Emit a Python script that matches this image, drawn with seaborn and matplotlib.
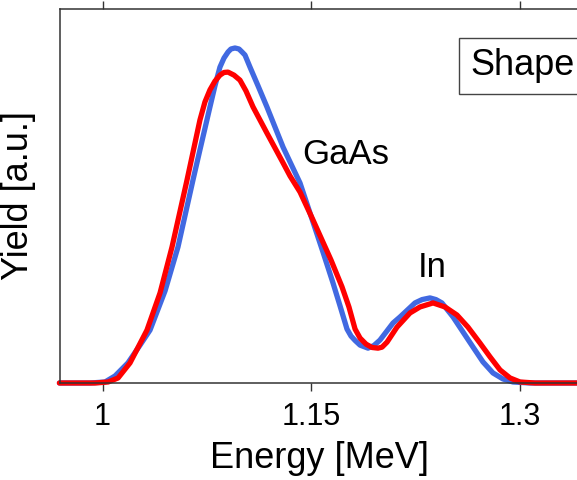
import matplotlib
matplotlib.use("Agg")
import matplotlib.pyplot as plt
import seaborn as sns
import pandas as pd

# blue curve
energy_blue = [0.969, 0.991, 1.0018, 1.009, 1.0183, 1.027, 1.0342, 1.045, 1.0543,
               1.0651, 1.0701, 1.0737, 1.0773, 1.0809, 1.0845, 1.0874, 1.0903,
               1.0924, 1.0953, 1.0982, 1.1004, 1.1025, 1.1061, 1.1119, 1.1183,
               1.1299, 1.1349, 1.1421, 1.1514, 1.1586, 1.1658, 1.1709, 1.1759,
               1.1788, 1.1817, 1.1853, 1.1910, 1.1953, 1.1996, 1.209, 1.214,
               1.2248, 1.2299, 1.2356, 1.2399, 1.2442, 1.2522, 1.2594, 1.2666,
               1.2737, 1.2809, 1.2881, 1.2953, 1.3076, 1.38]
yield_blue = [0.0, 0.0, 0.003, 0.021, 0.060, 0.113, 0.158, 0.275, 0.406,
              0.606, 0.696, 0.760, 0.824, 0.887, 0.943, 0.970, 0.988,
              0.997, 1.0, 0.997, 0.988, 0.979, 0.943, 0.887, 0.824,
              0.704, 0.660, 0.597, 0.481, 0.391, 0.299, 0.230, 0.161,
              0.140, 0.127, 0.113, 0.104, 0.112, 0.128, 0.179, 0.197,
              0.239, 0.249, 0.254, 0.249, 0.239, 0.197, 0.152, 0.107,
              0.063, 0.030, 0.012, 0.003, 0.0, 0.0]

# red curve
energy_red = [0.969, 0.9946, 1.004, 1.0112, 1.0198, 1.032, 1.0414, 1.05, 1.0608,
              1.0701, 1.0737, 1.0773, 1.0809, 1.0845, 1.0874, 1.0903, 1.0946,
              1.0989, 1.1032, 1.1083, 1.1183, 1.1299, 1.1349, 1.1421, 1.1514,
              1.1579, 1.1644, 1.1723, 1.1773, 1.1817, 1.1853, 1.1896, 1.1939,
              1.1982, 1.2011, 1.2047, 1.2119, 1.2212, 1.2284, 1.2378, 1.2464,
              1.255, 1.2629, 1.2716, 1.2788, 1.286, 1.2932, 1.3004, 1.3112, 1.38]
yield_red = [0.0, 0.0, 0.003, 0.015, 0.060, 0.158, 0.269, 0.406, 0.606,
             0.785, 0.839, 0.875, 0.901, 0.919, 0.927, 0.928, 0.919,
             0.904, 0.872, 0.824, 0.746, 0.657, 0.618, 0.570, 0.487,
             0.427, 0.367, 0.287, 0.227, 0.161, 0.134, 0.116, 0.106,
             0.104, 0.107, 0.122, 0.167, 0.209, 0.227, 0.239, 0.227,
             0.203, 0.167, 0.119, 0.078, 0.039, 0.015, 0.003, 0.0, 0.0]

x_ticks = [1.0, 1.15, 1.3]
x_ticklabels = ["1", "1.15", "1.3"]

sns.set_style("ticks")
plt.rcParams["font.family"] = ["Liberation Sans", "DejaVu Sans"]
plt.rcParams["text.color"] = "black"
plt.rcParams["axes.labelcolor"] = "black"
plt.rcParams["xtick.color"] = "black"

fig = plt.figure(figsize=(5.77, 4.8), dpi=100)
# axes run past the right edge, the original is cropped there
ax = fig.add_axes([60 / 577, 97 / 480, 560 / 577, 374 / 480])

df_blue = pd.DataFrame({"E": energy_blue, "Y": yield_blue})
df_red = pd.DataFrame({"E": energy_red, "Y": yield_red})
sns.lineplot(data=df_blue, x="E", y="Y", color="#4169E1", lw=3.8,
             estimator=None, ax=ax, clip_on=False, solid_joinstyle="round")
sns.lineplot(data=df_red, x="E", y="Y", color="#FF0000", lw=3.8,
             estimator=None, ax=ax, clip_on=False, solid_joinstyle="round")

ax.set_xlim(0.96942, 1.37230)
ax.set_ylim(0, 1.1164)

ax.set_xticks(x_ticks)
ax.set_xticklabels(x_ticklabels)
ax.set_yticks([])
ax.tick_params(axis="x", which="both", top=True, bottom=True, labeltop=False,
               direction="out", length=6, width=1.0, color="#333333",
               labelcolor="black", labelsize=22, pad=8)
for side in ["left", "bottom", "top", "right"]:
    ax.spines[side].set_color("#333333")
    ax.spines[side].set_linewidth(1.1)

ax.set_xlabel("Energy [MeV]", fontsize=26)
ax.set_ylabel("Yield [a.u.]", fontsize=26)
ax.xaxis.set_label_coords(0.4625, -0.155)
ax.yaxis.set_label_coords(-0.042, 0.5)

ax.text(1.1435, 0.654, "GaAs", fontsize=25, ha="left", va="baseline")
ax.text(1.227, 0.316, "In", fontsize=25, ha="left", va="baseline")
ax.text(1.2644, 0.918, "Shape", fontsize=26, ha="left", va="baseline",
        bbox=dict(boxstyle="square,pad=0.3", fc="white", ec="#444444", lw=1.0))

fig.savefig("out.png", dpi=100)
